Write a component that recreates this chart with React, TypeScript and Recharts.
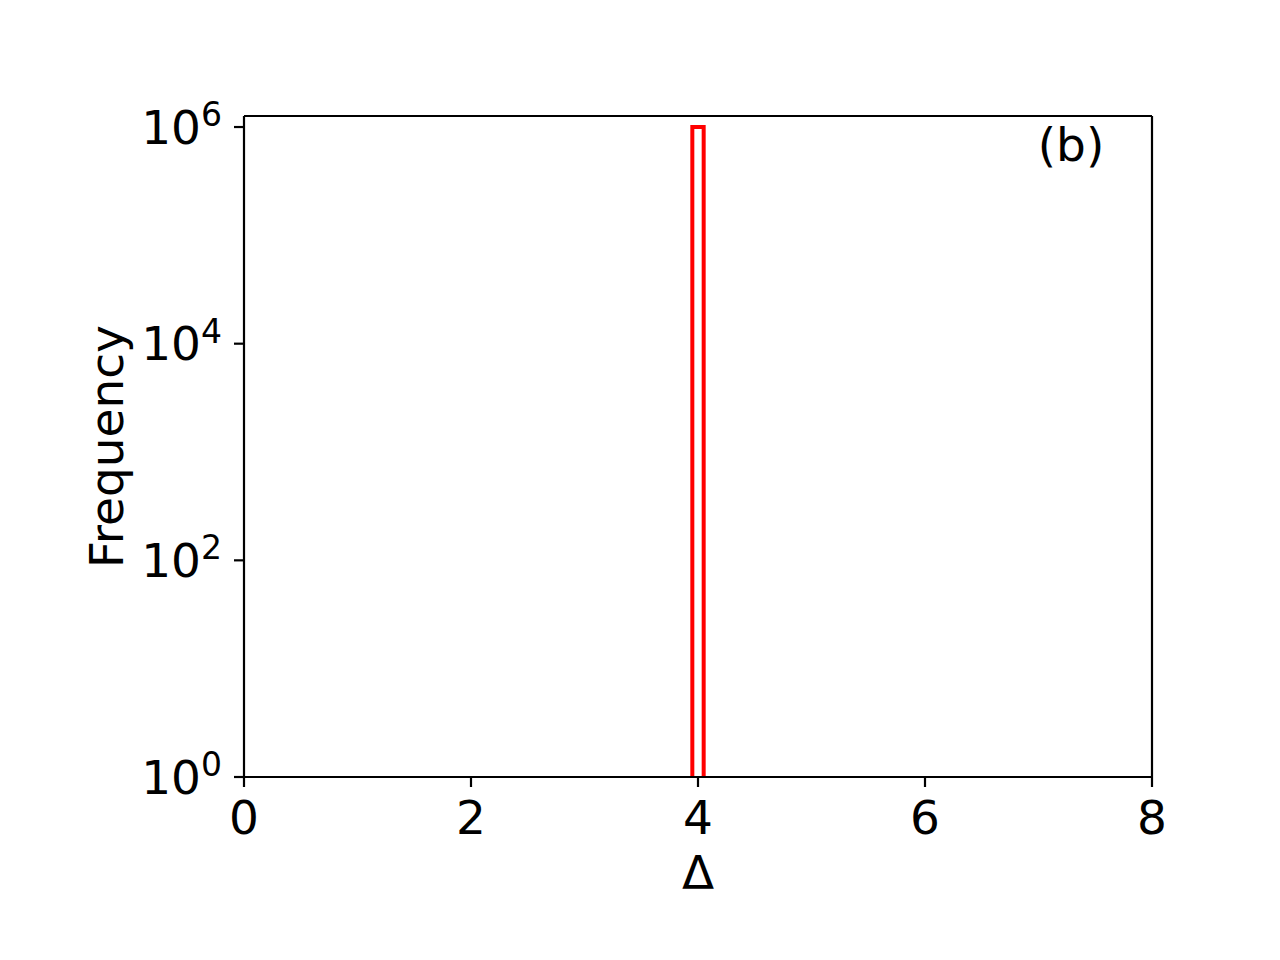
import { ComposedChart, Line, XAxis, YAxis, Label } from 'recharts';

// histogram: bin edges along Δ and counts per bin
const binEdges = [3.95, 4.05];
const counts = [1000000];

const xTicks = [0, 2, 4, 6, 8];
const yTicks = [1, 100, 10000, 1000000];

const FONT = '"DejaVu Sans", sans-serif';
const FS = 47;

// step outline of the histogram, starting/ending on the baseline (count 1 on log axis)
function stepOutline(edges: number[], values: number[]) {
  const pts: { x: number; y: number }[] = [{ x: edges[0], y: 1 }];
  values.forEach((v, i) => {
    pts.push({ x: edges[i], y: v });
    pts.push({ x: edges[i + 1], y: v });
  });
  pts.push({ x: edges[edges.length - 1], y: 1 });
  return pts;
}

const outline = stepOutline(binEdges, counts);

const XTick = (props: any) => {
  const { x, y, payload } = props;
  return (
    <text x={x} y={y + 47} textAnchor="middle" fontFamily={FONT} fontSize={FS} fill="#000">
      {payload.value}
    </text>
  );
};

const YTick = (props: any) => {
  const { x, y, payload } = props;
  const exp = Math.round(Math.log10(payload.value));
  return (
    <text x={x - 12} y={y + 16.5} textAnchor="end" fontFamily={FONT} fontSize={FS} fill="#000">
      <tspan>10</tspan>
      <tspan dy={-17.5} fontSize={33}>{exp}</tspan>
    </text>
  );
};

export default function App() {
  return (
    <div style={{ width: 1280, height: 960, background: '#fff' }}>
      <style>{'body{margin:0}'}</style>
      <ComposedChart
        width={1280}
        height={960}
        data={outline}
        margin={{ top: 115, right: 127, bottom: 123, left: 0 }}
      >
        <XAxis
          xAxisId="bottom"
          dataKey="x"
          type="number"
          domain={[0, 8]}
          ticks={xTicks}
          height={60}
          tickSize={10}
          tickMargin={0}
          axisLine={{ stroke: '#000', strokeWidth: 2.2 }}
          tickLine={{ stroke: '#000', strokeWidth: 2.2 }}
          tick={<XTick />}
          allowDataOverflow
        >
          <Label
            content={(p: any) => {
              const vb = p.viewBox;
              return (
                <text x={vb.x + vb.width / 2} y={vb.y + 112} textAnchor="middle" fontFamily={FONT} fontSize={FS} fill="#000">
                  Δ
                </text>
              );
            }}
          />
        </XAxis>
        {/* top frame line */}
        <XAxis
          xAxisId="top"
          dataKey="x"
          orientation="top"
          type="number"
          domain={[0, 8]}
          ticks={xTicks}
          height={1}
          tick={false}
          tickLine={false}
          axisLine={{ stroke: '#000', strokeWidth: 2.2 }}
          allowDataOverflow
        />
        <YAxis
          yAxisId="left"
          type="number"
          scale="log"
          domain={[1, 1264000]}
          ticks={yTicks}
          width={244}
          tickSize={10}
          tickMargin={0}
          allowDataOverflow
          axisLine={{ stroke: '#000', strokeWidth: 2.2 }}
          tickLine={{ stroke: '#000', strokeWidth: 2.2 }}
          tick={<YTick />}
        >
          <Label
            content={(p: any) => {
              const vb = p.viewBox;
              const cy = vb.y + vb.height / 2;
              return (
                <text x={123} y={cy} transform={`rotate(-90 123 ${cy})`} textAnchor="middle" fontFamily={FONT} fontSize={FS} fill="#000">
                  Frequency
                </text>
              );
            }}
          />
        </YAxis>
        {/* right frame line, carries the panel tag */}
        <YAxis
          yAxisId="right"
          orientation="right"
          type="number"
          scale="log"
          domain={[1, 1264000]}
          ticks={yTicks}
          width={1}
          tick={false}
          tickLine={false}
          axisLine={{ stroke: '#000', strokeWidth: 2.2 }}
          allowDataOverflow
        >
          <Label
            content={(p: any) => {
              const vb = p.viewBox;
              return (
                <text x={vb.x - 81} y={vb.y + 45} textAnchor="middle" fontFamily={FONT} fontSize={FS} fill="#000">
                  (b)
                </text>
              );
            }}
          />
        </YAxis>
        {/* invisible series so the top / right frame axes are drawn */}
        <Line
          xAxisId="top"
          yAxisId="right"
          dataKey="y"
          stroke="none"
          dot={false}
          activeDot={false}
          isAnimationActive={false}
        />
        <Line
          xAxisId="bottom"
          yAxisId="left"
          dataKey="y"
          type="linear"
          stroke="#ff0000"
          strokeWidth={4}
          strokeLinejoin="miter"
          dot={false}
          activeDot={false}
          isAnimationActive={false}
        />
      </ComposedChart>
    </div>
  );
}
